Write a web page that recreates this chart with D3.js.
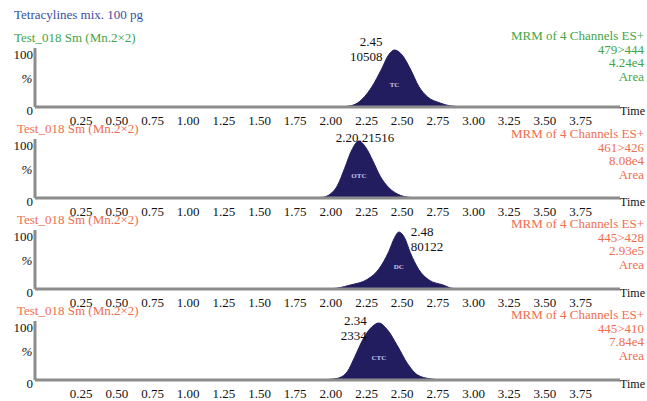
<!DOCTYPE html>
<html>
<head>
<meta charset="utf-8">
<script src="https://cdn.jsdelivr.net/npm/d3@7"></script>
<style>
  body { margin: 0; background: #fff; }
  svg { display: block; font-family: "Liberation Serif", "DejaVu Serif", serif; }
</style>
</head>
<body>
<svg id="chart" width="647" height="401"></svg>
<script>
// Chromatogram data
const mainTitle = "Tetracylines mix. 100 pg";
const traceTitles = ["Test_018 Sm (Mn.2×2)", "Test_018 Sm (Mn.2×2)", "Test_018 Sm (Mn.2×2)", "Test_018 Sm (Mn.2×2)"];
const channels = ["479>444", "461>426", "445>428", "445>410"];
const intensities = ["4.24e4", "8.08e4", "2.93e5", "7.84e4"];
const compounds = ["TC", "OTC", "DC", "CTC"];
const peakTimes = ["2.45", "2.20", "2.48", "2.34"];
const peakAreas = ["10508", "21516", "80122", "2334"];
const timeTicks = [0.25, 0.5, 0.75, 1.0, 1.25, 1.5, 1.75, 2.0, 2.25, 2.5, 2.75, 3.0, 3.25, 3.5, 3.75];

// each trace: [time, % of max]
const traceTC = [[1.95, 0], [2.08, 0.5], [2.14, 2], [2.19, 7], [2.29, 35], [2.36, 67], [2.41, 92], [2.45, 100],
  [2.50, 92], [2.56, 67], [2.62, 36], [2.68, 18], [2.77, 7], [2.84, 2], [2.95, 0]];
const traceOTC = [[1.85, 0], [1.94, 1], [2.00, 7], [2.05, 22], [2.10, 52], [2.15, 84], [2.20, 100],
  [2.25, 88], [2.30, 64], [2.35, 38], [2.41, 18], [2.47, 7], [2.56, 1], [2.68, 0]];
const traceDC = [[1.98, 0], [2.06, 2], [2.14, 7], [2.26, 17], [2.34, 35], [2.41, 66], [2.45, 90], [2.48, 100],
  [2.52, 90], [2.56, 64], [2.62, 34], [2.69, 16], [2.79, 7], [2.86, 1], [2.98, 0]];
const traceCTC = [[1.90, 0], [1.99, 1], [2.05, 3], [2.12, 15], [2.17, 40], [2.23, 72], [2.29, 93], [2.34, 100],
  [2.40, 88], [2.47, 60], [2.54, 29], [2.61, 9], [2.70, 2], [2.80, 0]];
const traces = [traceTC, traceOTC, traceDC, traceCTC];

// colours and layout
const navy = "#221d5e";
const titleColors = ["#3fa647", "#f06e50", "#f06e50", "#f06e50"];
const baselines = [107, 198, 289, 380];
const panelHeight = 57;
const infoOffset = [-71, -64, -65, -65];
// peak label placement relative to peak top: anchor, dx, dy of first line, one line or two
const peakLabel = [
  { anchor: "end", dx: -12, dy: -4, single: false },
  { anchor: "middle", dx: 6, dy: 1, single: true },
  { anchor: "start", dx: 12, dy: 4, single: false },
  { anchor: "end", dx: -12, dy: 2, single: false }
];

const svg = d3.select("#chart");
const x = d3.scaleLinear().domain([-0.07, 4.03]).range([35, 620]);

svg.append("text")
  .attr("x", 14).attr("y", 19)
  .attr("font-size", 13)
  .attr("fill", "#3550a0")
  .text(mainTitle);

traces.forEach((trace, i) => {
  const base = baselines[i];
  const y = d3.scaleLinear().domain([0, 100]).range([base, base - panelHeight]);
  const g = svg.append("g");

  // trace title
  g.append("text")
    .attr("x", i === 0 ? 14 : 17).attr("y", base - 65)
    .attr("font-size", 13)
    .attr("fill", titleColors[i])
    .text(traceTitles[i]);

  // right info block
  const info = [`MRM of 4 Channels ES+`, channels[i], intensities[i], "Area"];
  g.selectAll("text.info")
    .data(info)
    .join("text")
    .attr("class", "info")
    .attr("x", 644)
    .attr("y", (d, k) => base + infoOffset[i] + 4 + k * 13.6)
    .attr("text-anchor", "end")
    .attr("font-size", 13)
    .attr("fill", titleColors[i])
    .text(d => d);

  // peak area
  const area = d3.area()
    .x(d => x(d[0]))
    .y0(y(0))
    .y1(d => y(d[1]))
    .curve(d3.curveMonotoneX);

  g.append("path")
    .datum(trace)
    .attr("fill", navy)
    .attr("stroke", navy)
    .attr("stroke-width", 1)
    .attr("d", area);

  // axes (thick grey lines)
  g.append("line")
    .attr("x1", x(-0.07)).attr("x2", x(4.03))
    .attr("y1", y(0)).attr("y2", y(0))
    .attr("stroke", "#8c8c8c")
    .attr("stroke-width", 3);
  g.append("line")
    .attr("x1", x(-0.07)).attr("x2", x(-0.07))
    .attr("y1", y(0)).attr("y2", y(100) - 2)
    .attr("stroke", "#8c8c8c")
    .attr("stroke-width", 3);

  // y labels
  const yLab = g.append("g").attr("font-size", 13).attr("fill", "#111");
  yLab.append("text").attr("x", 33).attr("y", y(100) + 9).attr("text-anchor", "end").text("100");
  yLab.append("text").attr("x", 27).attr("y", y(50) + 4).attr("text-anchor", "middle").attr("font-style", "italic").text("%");
  yLab.append("text").attr("x", 33).attr("y", y(0) + 8).attr("text-anchor", "end").text("0");

  // x axis tick labels
  const ax = g.append("g")
    .attr("transform", `translate(0,${base})`)
    .call(d3.axisBottom(x).tickValues(timeTicks).tickFormat(d3.format(".2f")).tickSize(0).tickPadding(9));
  ax.select(".domain").remove();
  ax.selectAll("text")
    .attr("font-family", "Liberation Serif, serif")
    .attr("font-size", 13)
    .attr("fill", "#111");

  g.append("text")
    .attr("x", 645).attr("y", base + 8)
    .attr("text-anchor", "end")
    .attr("font-size", 12)
    .attr("fill", "#111")
    .text("Time");

  // compound label inside peak
  g.append("text")
    .attr("x", x(+peakTimes[i])).attr("y", y(35))
    .attr("text-anchor", "middle")
    .attr("font-size", 7)
    .attr("font-weight", "bold")
    .attr("fill", "#c8c4e8")
    .text(compounds[i]);

  // peak annotation
  const pl = peakLabel[i];
  const px = x(+peakTimes[i]) + pl.dx;
  const py = y(100) + pl.dy;
  const lines = pl.single ? [`${peakTimes[i]}.${peakAreas[i]}`] : [peakTimes[i], peakAreas[i]];
  g.selectAll("text.peak")
    .data(lines)
    .join("text")
    .attr("class", "peak")
    .attr("x", px)
    .attr("y", (d, k) => py + k * 14.5)
    .attr("text-anchor", pl.anchor)
    .attr("font-size", 13)
    .attr("fill", "#111")
    .text(d => d);
});
</script>
</body>
</html>
